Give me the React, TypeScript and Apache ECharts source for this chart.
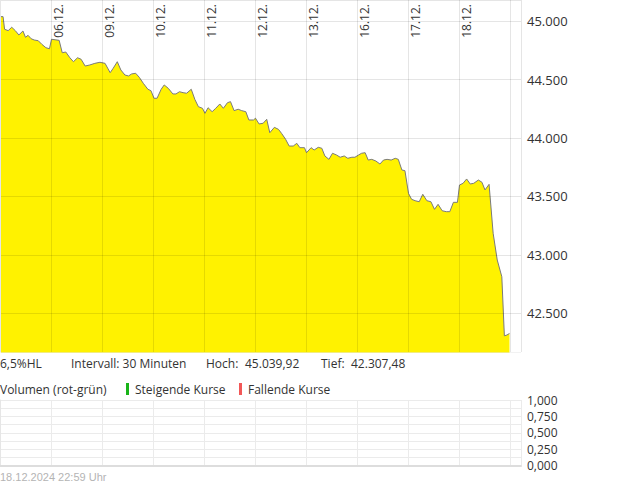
import React, { useEffect, useRef } from "react";
import * as echarts from "echarts";

// Trading-day position (0 = start of 05.12. session, 1 = start of 06.12. session, ...)
const dayPos: number[] = [
  0, 0.06, 0.09, 0.16, 0.23, 0.3, 0.37, 0.45, 0.5, 0.55, 0.61, 0.67, 0.75, 0.82, 0.9, 0.97,
  1.01, 1.08, 1.16, 1.22, 1.29, 1.37, 1.44, 1.52, 1.59, 1.67, 1.76, 1.86, 1.96,
  2.06, 2.16, 2.22, 2.3, 2.37, 2.45, 2.52, 2.58, 2.66, 2.73, 2.81, 2.9, 2.96,
  3.02, 3.08, 3.16, 3.22, 3.3, 3.39, 3.45, 3.52, 3.59, 3.66, 3.75, 3.82, 3.89, 3.97,
  4.02, 4.08, 4.16, 4.23, 4.31, 4.38, 4.46, 4.52, 4.59, 4.67, 4.74, 4.82, 4.88, 4.97,
  5.01, 5.08, 5.16, 5.23, 5.29, 5.38, 5.46, 5.52, 5.6, 5.67, 5.75, 5.82, 5.88, 5.97,
  6.01, 6.1, 6.16, 6.24, 6.31, 6.37, 6.45, 6.52, 6.6, 6.67, 6.75, 6.82, 6.9, 6.96,
  7.03, 7.09, 7.16, 7.22, 7.29, 7.37, 7.45, 7.52, 7.59, 7.67, 7.75, 7.81, 7.88, 7.94,
  8.01, 8.07, 8.14, 8.22, 8.29, 8.37, 8.45, 8.52, 8.59, 8.67, 8.75, 8.82, 8.89, 8.97,
  9.01, 9.08, 9.15, 9.22, 9.29, 9.38, 9.45, 9.51, 9.59, 9.67, 9.75, 9.84, 9.89, 9.94, 9.99,
];

const price: number[] = [
  45040, 45040, 44932, 44920, 44949, 44920, 44883, 44917, 44863, 44880, 44851, 44840, 44834, 44803, 44774, 44765,
  44846, 44842, 44837, 44731, 44737, 44688, 44654, 44688, 44675, 44617, 44626, 44640, 44649,
  44640, 44560, 44598, 44654, 44583, 44540, 44532, 44549, 44555, 44521, 44469, 44418, 44406,
  44341, 44341, 44418, 44455, 44426, 44378, 44378, 44397, 44389, 44384, 44418, 44332, 44269, 44255,
  44212, 44260, 44226, 44255, 44292, 44255, 44303, 44312, 44235, 44247, 44235, 44226, 44155, 44155,
  44170, 44121, 44127, 44161, 44046, 44092, 44075, 44041, 43990, 43932, 43932, 43955, 43918, 43918,
  43875, 43918, 43898, 43921, 43913, 43847, 43818, 43870, 43855, 43836, 43847, 43827, 43836, 43836,
  43855, 43870, 43875, 43812, 43818, 43804, 43778, 43812, 43818, 43812, 43827, 43818, 43727, 43721,
  43527, 43476, 43464, 43455, 43519, 43464, 43455, 43390, 43433, 43378, 43370, 43370, 43450, 43450,
  43598, 43613, 43650, 43607, 43613, 43641, 43622, 43556, 43604, 43185, 42956, 42813, 42307, 42314, 42327,
];

const dayLabels: string[] = [
  "05.12.", "06.12.", "09.12.", "10.12.", "11.12.", "12.12.", "13.12.", "16.12.", "17.12.", "18.12.",
];

const priceTicks: number[] = [42500, 43000, 43500, 44000, 44500, 45000];
const volumeTicks: number[] = [0, 0.25, 0.5, 0.75, 1];

const infoTexts = {
  name: "6,5%HL",
  interval: "Intervall: 30 Minuten",
  highLabel: "Hoch:",
  high: "45.039,92",
  lowLabel: "Tief:",
  low: "42.307,48",
};
const legendTexts = ["Volumen (rot-grün)", "Steigende Kurse", "Fallende Kurse"];
const footerText = "18.12.2024 22:59 Uhr";

const X_MAX = 10.216;
// price scale: 45.000 at y=21.3, 8.562 points per pixel
const Y_MIN = 42000;
const Y_MAX = 45500;
const PX_PER_PT = 1 / 8.562;
const Y_TOP = 21.3 - (Y_MAX - 45000) * PX_PER_PT;
const Y_HEIGHT = (Y_MAX - Y_MIN) * PX_PER_PT;
const PLOT_W = 521;
const PLOT_H = 352;
const FONT = "Open Sans";

export default function App() {
  const ref = useRef<HTMLDivElement>(null);

  useEffect(() => {
    if (!ref.current) return;
    const chart = echarts.init(ref.current, undefined, { renderer: "svg" });
    const gridColor = "rgba(0,0,0,0.1)";
    const seriesData = dayPos.map((d, i) => [d, price[i]]);
    const txt = (text: string, left: number, top: number, fill = "#333", font = `12px "${FONT}"`) => ({
      type: "text",
      left,
      top,
      z: 120,
      style: { text, fill, font },
    });

    chart.setOption({
      animation: false,
      backgroundColor: "#ffffff",
      textStyle: { fontFamily: FONT },
      grid: [
        { left: 0, top: Y_TOP, width: PLOT_W, height: Y_HEIGHT, outerBoundsMode: "none", containLabel: false },
        { left: 0, top: 400, width: PLOT_W, height: 65.5, outerBoundsMode: "none", containLabel: false },
        { left: 0, top: 0, width: PLOT_W, height: PLOT_H, outerBoundsMode: "none", containLabel: false },
      ],
      xAxis: [
        { type: "value", gridIndex: 0, min: 0, max: X_MAX, interval: 1, show: false },
        {
          type: "value",
          gridIndex: 1,
          min: 0,
          max: X_MAX,
          interval: 1,
          axisLine: { show: true, lineStyle: { color: "#dddddd", width: 2 } },
          axisTick: { show: false },
          axisLabel: { show: false },
          splitLine: { show: true, lineStyle: { color: "#ebebeb", width: 1 } },
        },
        {
          type: "value",
          gridIndex: 2,
          position: "top",
          min: 0,
          max: X_MAX,
          interval: 1,
          z: 3,
          axisLine: { show: false },
          axisTick: { show: false },
          axisLabel: { show: false },
          splitLine: { show: true, lineStyle: { color: gridColor, width: 1 } },
        },
      ],
      yAxis: [
        {
          type: "value",
          gridIndex: 0,
          position: "right",
          min: Y_MIN,
          max: Y_MAX,
          interval: 500,
          z: 3,
          axisLine: { show: true, lineStyle: { color: "#e6e6e6", width: 1 } },
          axisTick: { show: false },
          splitLine: { show: true, lineStyle: { color: gridColor, width: 1 } },
          axisLabel: {
            show: true,
            margin: 6,
            color: "#333",
            fontSize: 13,
            fontFamily: FONT,
            formatter: (v: number) =>
              priceTicks.includes(v) ? v.toLocaleString("de-DE") : "",
          },
        },
        {
          type: "value",
          gridIndex: 1,
          position: "right",
          min: 0,
          max: 1,
          interval: 0.125,
          axisLine: { show: true, lineStyle: { color: "#e6e6e6", width: 1 } },
          axisTick: { show: false },
          splitLine: { show: true, lineStyle: { color: "#ebebeb", width: 1 } },
          axisLabel: {
            show: true,
            margin: 6,
            color: "#333",
            fontSize: 12,
            fontFamily: FONT,
            formatter: (v: number) => {
              const t = volumeTicks.find((x) => Math.abs(x - v) < 1e-9);
              return t === undefined ? "" : t.toFixed(3).replace(".", ",");
            },
          },
        },
        {
          type: "value",
          gridIndex: 2,
          min: 0,
          max: 1,
          interval: 1,
          z: 3,
          axisLine: { show: false },
          axisTick: { show: false },
          axisLabel: { show: false },
          splitLine: { show: true, lineStyle: { color: gridColor, width: 1 } },
        },
      ],
      series: [
        {
          type: "line",
          xAxisIndex: 0,
          yAxisIndex: 0,
          data: seriesData,
          showSymbol: false,
          symbol: "none",
          lineStyle: { color: "#7a7a7a", width: 1 },
          areaStyle: { color: "#fff200", opacity: 1, origin: "start" },
          z: 2,
        },
      ],
    });

    // date labels placed at the day boundaries through the x axis scale
    const dateGraphics = dayLabels
      .map((label, i) => {
        if (i === 0) return null;
        const px = chart.convertToPixel({ xAxisIndex: 2 }, i) as number;
        return {
          type: "text",
          x: px + 2,
          y: 4,
          rotation: Math.PI / 2,
          z: 120,
          style: {
            text: label,
            fill: "#333",
            font: `12px "${FONT}"`,
            align: "right",
            verticalAlign: "top",
          },
        };
      })
      .filter(Boolean);

    chart.setOption({
      graphic: [
        {
          type: "rect",
          z: 100,
          shape: { x: 0, y: PLOT_H + 0.5, width: PLOT_W + 2, height: 24 },
          style: { fill: "#ffffff" },
        },
        ...dateGraphics,
        txt(infoTexts.name, 0, 357),
        txt(infoTexts.interval, 71, 357),
        txt(infoTexts.highLabel, 206, 357),
        txt(infoTexts.high, 245, 357),
        txt(infoTexts.lowLabel, 321, 357),
        txt(infoTexts.low, 351, 357),
        txt(legendTexts[0], 0, 383),
        { type: "rect", z: 120, shape: { x: 126, y: 383, width: 3, height: 12 }, style: { fill: "#19b419" } },
        txt(legendTexts[1], 135, 383),
        { type: "rect", z: 120, shape: { x: 239, y: 383, width: 3, height: 12 }, style: { fill: "#f25757" } },
        txt(legendTexts[2], 248, 383),
        txt(footerText, 0, 471, "#b4b4b4", `11px "Liberation Sans"`),
      ],
    });

    return () => chart.dispose();
  }, []);

  return (
    <div
      ref={ref}
      style={{ position: "fixed", left: 0, top: 0, width: 620, height: 483, background: "#fff" }}
    />
  );
}
